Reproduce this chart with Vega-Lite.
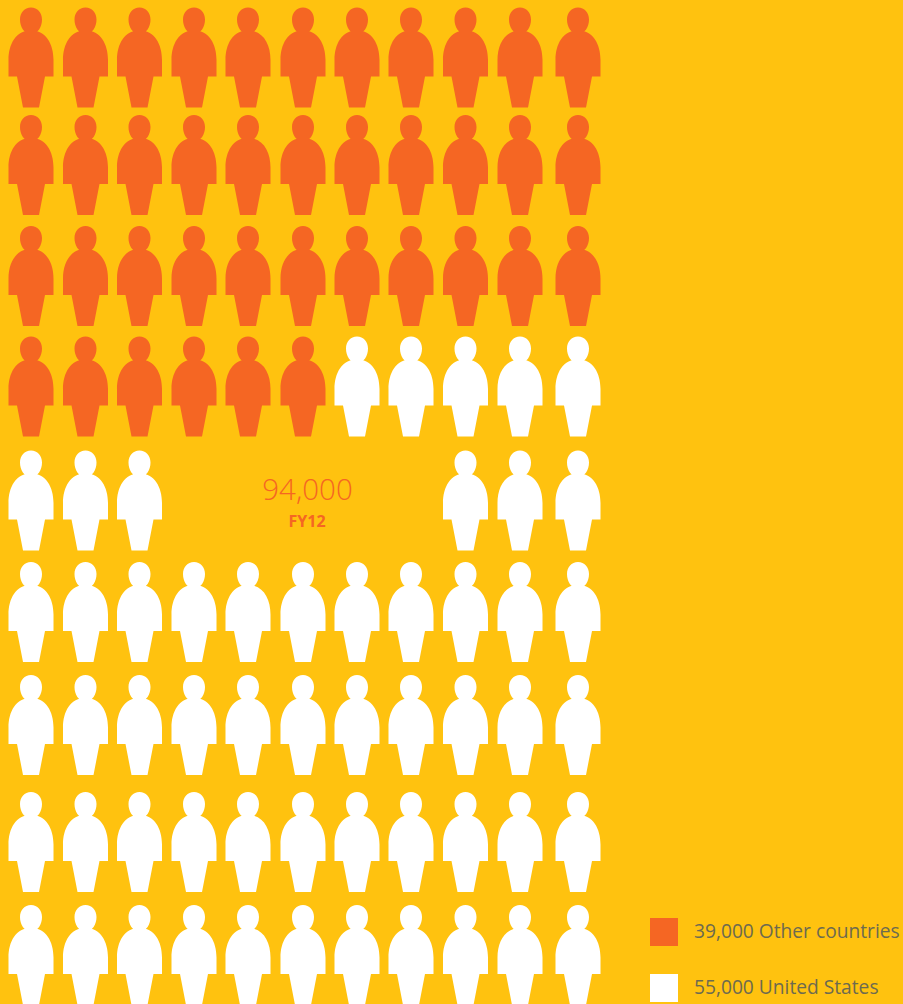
{
"$schema":"https://vega.github.io/schema/vega-lite/v6.json",
"width":903,"height":1004,"padding":0,
"autosize":{"type":"fit","contains":"padding"},
"background":"#FFC20F",
"view":{"stroke":null},
"config":{"view":{"stroke":null}},
"datasets":{"people":[
{"col":1,"row":1,"group":"39,000 Other countries"},{"col":2,"row":1,"group":"39,000 Other countries"},{"col":3,"row":1,"group":"39,000 Other countries"},{"col":4,"row":1,"group":"39,000 Other countries"},{"col":5,"row":1,"group":"39,000 Other countries"},{"col":6,"row":1,"group":"39,000 Other countries"},{"col":7,"row":1,"group":"39,000 Other countries"},{"col":8,"row":1,"group":"39,000 Other countries"},{"col":9,"row":1,"group":"39,000 Other countries"},{"col":10,"row":1,"group":"39,000 Other countries"},{"col":11,"row":1,"group":"39,000 Other countries"},
{"col":1,"row":2,"group":"39,000 Other countries"},{"col":2,"row":2,"group":"39,000 Other countries"},{"col":3,"row":2,"group":"39,000 Other countries"},{"col":4,"row":2,"group":"39,000 Other countries"},{"col":5,"row":2,"group":"39,000 Other countries"},{"col":6,"row":2,"group":"39,000 Other countries"},{"col":7,"row":2,"group":"39,000 Other countries"},{"col":8,"row":2,"group":"39,000 Other countries"},{"col":9,"row":2,"group":"39,000 Other countries"},{"col":10,"row":2,"group":"39,000 Other countries"},{"col":11,"row":2,"group":"39,000 Other countries"},
{"col":1,"row":3,"group":"39,000 Other countries"},{"col":2,"row":3,"group":"39,000 Other countries"},{"col":3,"row":3,"group":"39,000 Other countries"},{"col":4,"row":3,"group":"39,000 Other countries"},{"col":5,"row":3,"group":"39,000 Other countries"},{"col":6,"row":3,"group":"39,000 Other countries"},{"col":7,"row":3,"group":"39,000 Other countries"},{"col":8,"row":3,"group":"39,000 Other countries"},{"col":9,"row":3,"group":"39,000 Other countries"},{"col":10,"row":3,"group":"39,000 Other countries"},{"col":11,"row":3,"group":"39,000 Other countries"},
{"col":1,"row":4,"group":"39,000 Other countries"},{"col":2,"row":4,"group":"39,000 Other countries"},{"col":3,"row":4,"group":"39,000 Other countries"},{"col":4,"row":4,"group":"39,000 Other countries"},{"col":5,"row":4,"group":"39,000 Other countries"},{"col":6,"row":4,"group":"39,000 Other countries"},{"col":7,"row":4,"group":"55,000 United States"},{"col":8,"row":4,"group":"55,000 United States"},{"col":9,"row":4,"group":"55,000 United States"},{"col":10,"row":4,"group":"55,000 United States"},{"col":11,"row":4,"group":"55,000 United States"},
{"col":1,"row":5,"group":"55,000 United States"},{"col":2,"row":5,"group":"55,000 United States"},{"col":3,"row":5,"group":"55,000 United States"},{"col":9,"row":5,"group":"55,000 United States"},{"col":10,"row":5,"group":"55,000 United States"},{"col":11,"row":5,"group":"55,000 United States"},
{"col":1,"row":6,"group":"55,000 United States"},{"col":2,"row":6,"group":"55,000 United States"},{"col":3,"row":6,"group":"55,000 United States"},{"col":4,"row":6,"group":"55,000 United States"},{"col":5,"row":6,"group":"55,000 United States"},{"col":6,"row":6,"group":"55,000 United States"},{"col":7,"row":6,"group":"55,000 United States"},{"col":8,"row":6,"group":"55,000 United States"},{"col":9,"row":6,"group":"55,000 United States"},{"col":10,"row":6,"group":"55,000 United States"},{"col":11,"row":6,"group":"55,000 United States"},
{"col":1,"row":7,"group":"55,000 United States"},{"col":2,"row":7,"group":"55,000 United States"},{"col":3,"row":7,"group":"55,000 United States"},{"col":4,"row":7,"group":"55,000 United States"},{"col":5,"row":7,"group":"55,000 United States"},{"col":6,"row":7,"group":"55,000 United States"},{"col":7,"row":7,"group":"55,000 United States"},{"col":8,"row":7,"group":"55,000 United States"},{"col":9,"row":7,"group":"55,000 United States"},{"col":10,"row":7,"group":"55,000 United States"},{"col":11,"row":7,"group":"55,000 United States"},
{"col":1,"row":8,"group":"55,000 United States"},{"col":2,"row":8,"group":"55,000 United States"},{"col":3,"row":8,"group":"55,000 United States"},{"col":4,"row":8,"group":"55,000 United States"},{"col":5,"row":8,"group":"55,000 United States"},{"col":6,"row":8,"group":"55,000 United States"},{"col":7,"row":8,"group":"55,000 United States"},{"col":8,"row":8,"group":"55,000 United States"},{"col":9,"row":8,"group":"55,000 United States"},{"col":10,"row":8,"group":"55,000 United States"},{"col":11,"row":8,"group":"55,000 United States"},
{"col":1,"row":9,"group":"55,000 United States"},{"col":2,"row":9,"group":"55,000 United States"},{"col":3,"row":9,"group":"55,000 United States"},{"col":4,"row":9,"group":"55,000 United States"},{"col":5,"row":9,"group":"55,000 United States"},{"col":6,"row":9,"group":"55,000 United States"},{"col":7,"row":9,"group":"55,000 United States"},{"col":8,"row":9,"group":"55,000 United States"},{"col":9,"row":9,"group":"55,000 United States"},{"col":10,"row":9,"group":"55,000 United States"},{"col":11,"row":9,"group":"55,000 United States"}
]},
"layer":[
{"data":{"name":"people"},
 "mark":{"type":"point","filled":true,"opacity":1,"size":10000,"strokeWidth":0,"clip":false,
 "shape":"M0,-1C0.13,-1 0.22,-0.9 0.22,-0.76C0.22,-0.62 0.14,-0.47 0,-0.47C-0.14,-0.47 -0.22,-0.62 -0.22,-0.76C-0.22,-0.9 -0.13,-1 0,-1ZM0,-0.54C0.3,-0.54 0.45,-0.27 0.45,0.05L0.45,0.38L0.28,0.38L0.16,1L-0.16,1L-0.28,0.38L-0.45,0.38L-0.45,0.05C-0.45,-0.27 -0.3,-0.54 0,-0.54Z"},
 "encoding":{
  "x":{"field":"col","type":"quantitative","axis":null,"scale":{"zero":false,"nice":false,"domain":[1,2,3,4,5,6,7,8,9,10,11],"range":[31,85.5,139.5,194,248,303,357,411,465.5,520,578]}},
  "y":{"field":"row","type":"quantitative","axis":null,"scale":{"zero":false,"nice":false,"domain":[1,2,3,4,5,6,7,8,9],"range":[57.5,165,276,386.5,500.5,612,725,842,955]}},
  "color":{"field":"group","type":"nominal",
   "scale":{"domain":["39,000 Other countries","55,000 United States"],"range":["#F56623","#FFFFFF"]},
   "legend":{"title":null,"orient":"none","legendX":650,"legendY":918,"symbolType":"square","symbolSize":784,"symbolStrokeWidth":0,"symbolOpacity":1,"labelFont":"Open Sans","labelFontSize":19.2,"labelColor":"#6D6A50","labelOffset":16,"rowPadding":28,"labelLimit":300,"padding":0}}
 }},
{"data":{"values":[{"col":6,"row":5,"label":"94,000"}]},
 "mark":{"type":"text","font":"Open Sans","fontWeight":300,"fontSize":29.5,"color":"#F56623","dx":4.5,"dy":-9.5,"align":"center","baseline":"middle"},
 "encoding":{"x":{"field":"col","type":"quantitative"},"y":{"field":"row","type":"quantitative"},"text":{"field":"label"}}},
{"data":{"values":[{"col":6,"row":5,"label":"FY12"}]},
 "mark":{"type":"text","font":"Open Sans","fontWeight":700,"fontSize":16,"color":"#F56623","dx":4,"dy":21,"align":"center","baseline":"middle"},
 "encoding":{"x":{"field":"col","type":"quantitative"},"y":{"field":"row","type":"quantitative"},"text":{"field":"label"}}}
]
}
